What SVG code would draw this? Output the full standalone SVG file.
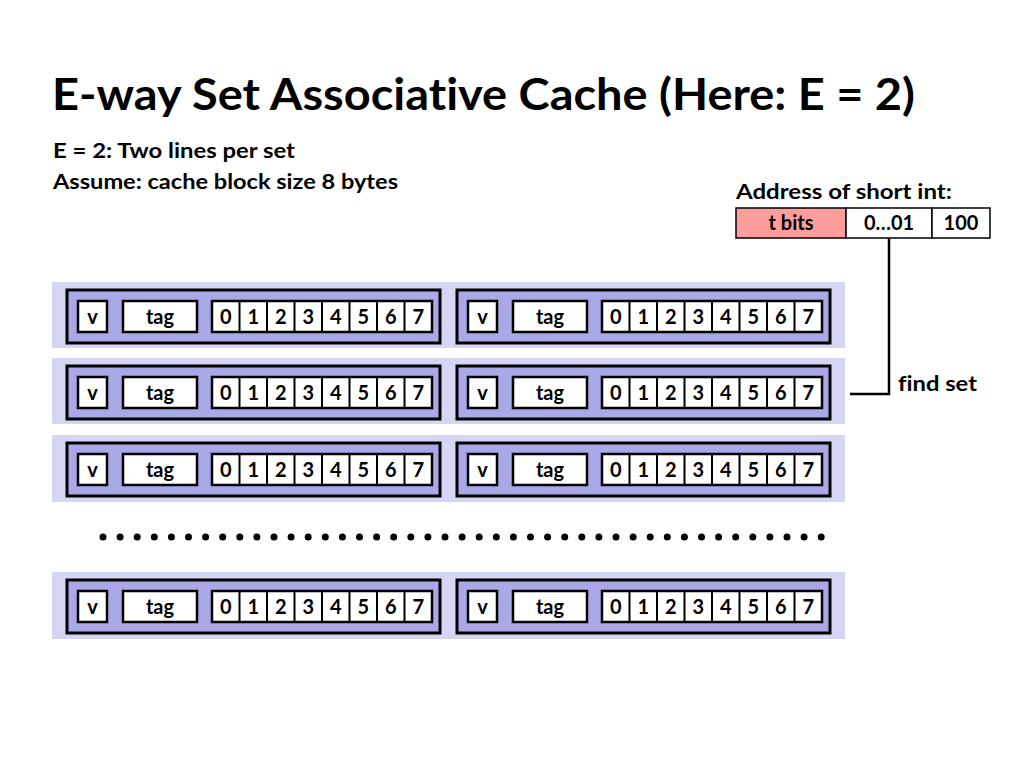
<svg xmlns="http://www.w3.org/2000/svg" width="1024" height="768" viewBox="0 0 1024 768">
<style>
.txt{font-family:"Lato","Liberation Sans",sans-serif;font-weight:bold;fill:#000;font-variant-ligatures:none}
.title{font-size:44px}
.sub{font-size:21px}
.c{font-size:20px;text-anchor:middle}
.setbg{fill:#d5d5f4;stroke:none}
.line{fill:#a9a9e8;stroke:#000;stroke-width:3}
.box{fill:#fff;stroke:#000;stroke-width:2.5}
.sep{stroke:#000;stroke-width:2}
.conn{fill:none;stroke:#000;stroke-width:2.5}
</style>
<rect width="1024" height="768" fill="#fff"/>
<text class="txt title" x="52" y="110" textLength="863" lengthAdjust="spacingAndGlyphs">E-way Set Associative Cache (Here: E = 2)</text>
<text class="txt sub" x="53" y="158" textLength="242" lengthAdjust="spacingAndGlyphs">E = 2: Two lines per set</text>
<text class="txt sub" x="53" y="189" textLength="345" lengthAdjust="spacingAndGlyphs">Assume: cache block size 8 bytes</text>

<g id="address">
<text class="txt sub" x="736" y="199" textLength="216" lengthAdjust="spacingAndGlyphs">Address of short int:</text>
<rect x="736" y="208" width="110" height="30" fill="#ff9c9c" stroke="#000" stroke-width="1.5"/>
<rect x="846" y="208" width="86" height="30" fill="#fff" stroke="#000" stroke-width="1.5"/>
<rect x="932" y="208" width="58" height="30" fill="#fff" stroke="#000" stroke-width="1.5"/>
<text class="txt c" x="791" y="230" font-size="19">t bits</text>
<text class="txt c" x="889" y="230" font-size="19">0…01</text>
<text class="txt c" x="961" y="230" font-size="19">100</text>
</g>

<g id="connectors">
<path class="conn" d="M889 238 V394 H850"/>
</g>
<text class="txt sub" x="898" y="391" textLength="79" lengthAdjust="spacingAndGlyphs">find set</text>

<g id="set0">
<rect class="setbg" x="52" y="282" width="793" height="66"/>
<g id="set0-line0" transform="translate(67,290)">
<rect class="line" x="0" y="0" width="373" height="53"/>
<rect class="box" x="11" y="11" width="29" height="31"/>
<rect class="box" x="56" y="11" width="74" height="31"/>
<rect class="box" x="145" y="11" width="220" height="31"/>
<path class="sep" d="M172.5 11v31M200 11v31M227.5 11v31M255 11v31M282.5 11v31M310 11v31M337.5 11v31"/>
<text class="txt c" x="25.5" y="34">v</text>
<text class="txt c" x="93" y="34">tag</text>
<text class="txt c" x="158.75" y="34">0</text><text class="txt c" x="186.25" y="34">1</text><text class="txt c" x="213.75" y="34">2</text><text class="txt c" x="241.25" y="34">3</text><text class="txt c" x="268.75" y="34">4</text><text class="txt c" x="296.25" y="34">5</text><text class="txt c" x="323.75" y="34">6</text><text class="txt c" x="351.25" y="34">7</text>
</g>
<g id="set0-line1" transform="translate(457,290)">
<rect class="line" x="0" y="0" width="373" height="53"/>
<rect class="box" x="11" y="11" width="29" height="31"/>
<rect class="box" x="56" y="11" width="74" height="31"/>
<rect class="box" x="145" y="11" width="220" height="31"/>
<path class="sep" d="M172.5 11v31M200 11v31M227.5 11v31M255 11v31M282.5 11v31M310 11v31M337.5 11v31"/>
<text class="txt c" x="25.5" y="34">v</text>
<text class="txt c" x="93" y="34">tag</text>
<text class="txt c" x="158.75" y="34">0</text><text class="txt c" x="186.25" y="34">1</text><text class="txt c" x="213.75" y="34">2</text><text class="txt c" x="241.25" y="34">3</text><text class="txt c" x="268.75" y="34">4</text><text class="txt c" x="296.25" y="34">5</text><text class="txt c" x="323.75" y="34">6</text><text class="txt c" x="351.25" y="34">7</text>
</g>
</g>

<g id="set1">
<rect class="setbg" x="52" y="358" width="793" height="66"/>
<g id="set1-line0" transform="translate(67,366)">
<rect class="line" x="0" y="0" width="373" height="53"/>
<rect class="box" x="11" y="11" width="29" height="31"/>
<rect class="box" x="56" y="11" width="74" height="31"/>
<rect class="box" x="145" y="11" width="220" height="31"/>
<path class="sep" d="M172.5 11v31M200 11v31M227.5 11v31M255 11v31M282.5 11v31M310 11v31M337.5 11v31"/>
<text class="txt c" x="25.5" y="34">v</text>
<text class="txt c" x="93" y="34">tag</text>
<text class="txt c" x="158.75" y="34">0</text><text class="txt c" x="186.25" y="34">1</text><text class="txt c" x="213.75" y="34">2</text><text class="txt c" x="241.25" y="34">3</text><text class="txt c" x="268.75" y="34">4</text><text class="txt c" x="296.25" y="34">5</text><text class="txt c" x="323.75" y="34">6</text><text class="txt c" x="351.25" y="34">7</text>
</g>
<g id="set1-line1" transform="translate(457,366)">
<rect class="line" x="0" y="0" width="373" height="53"/>
<rect class="box" x="11" y="11" width="29" height="31"/>
<rect class="box" x="56" y="11" width="74" height="31"/>
<rect class="box" x="145" y="11" width="220" height="31"/>
<path class="sep" d="M172.5 11v31M200 11v31M227.5 11v31M255 11v31M282.5 11v31M310 11v31M337.5 11v31"/>
<text class="txt c" x="25.5" y="34">v</text>
<text class="txt c" x="93" y="34">tag</text>
<text class="txt c" x="158.75" y="34">0</text><text class="txt c" x="186.25" y="34">1</text><text class="txt c" x="213.75" y="34">2</text><text class="txt c" x="241.25" y="34">3</text><text class="txt c" x="268.75" y="34">4</text><text class="txt c" x="296.25" y="34">5</text><text class="txt c" x="323.75" y="34">6</text><text class="txt c" x="351.25" y="34">7</text>
</g>
</g>

<g id="set2">
<rect class="setbg" x="52" y="435" width="793" height="67"/>
<g id="set2-line0" transform="translate(67,443)">
<rect class="line" x="0" y="0" width="373" height="53"/>
<rect class="box" x="11" y="11" width="29" height="31"/>
<rect class="box" x="56" y="11" width="74" height="31"/>
<rect class="box" x="145" y="11" width="220" height="31"/>
<path class="sep" d="M172.5 11v31M200 11v31M227.5 11v31M255 11v31M282.5 11v31M310 11v31M337.5 11v31"/>
<text class="txt c" x="25.5" y="34">v</text>
<text class="txt c" x="93" y="34">tag</text>
<text class="txt c" x="158.75" y="34">0</text><text class="txt c" x="186.25" y="34">1</text><text class="txt c" x="213.75" y="34">2</text><text class="txt c" x="241.25" y="34">3</text><text class="txt c" x="268.75" y="34">4</text><text class="txt c" x="296.25" y="34">5</text><text class="txt c" x="323.75" y="34">6</text><text class="txt c" x="351.25" y="34">7</text>
</g>
<g id="set2-line1" transform="translate(457,443)">
<rect class="line" x="0" y="0" width="373" height="53"/>
<rect class="box" x="11" y="11" width="29" height="31"/>
<rect class="box" x="56" y="11" width="74" height="31"/>
<rect class="box" x="145" y="11" width="220" height="31"/>
<path class="sep" d="M172.5 11v31M200 11v31M227.5 11v31M255 11v31M282.5 11v31M310 11v31M337.5 11v31"/>
<text class="txt c" x="25.5" y="34">v</text>
<text class="txt c" x="93" y="34">tag</text>
<text class="txt c" x="158.75" y="34">0</text><text class="txt c" x="186.25" y="34">1</text><text class="txt c" x="213.75" y="34">2</text><text class="txt c" x="241.25" y="34">3</text><text class="txt c" x="268.75" y="34">4</text><text class="txt c" x="296.25" y="34">5</text><text class="txt c" x="323.75" y="34">6</text><text class="txt c" x="351.25" y="34">7</text>
</g>
</g>

<path d="M103 537 H822" fill="none" stroke="#000" stroke-width="7" stroke-linecap="round" stroke-dasharray="0 17.1"/>

<g id="setS">
<rect class="setbg" x="52" y="572" width="793" height="67"/>
<g id="setS-line0" transform="translate(67,580)">
<rect class="line" x="0" y="0" width="373" height="53"/>
<rect class="box" x="11" y="11" width="29" height="31"/>
<rect class="box" x="56" y="11" width="74" height="31"/>
<rect class="box" x="145" y="11" width="220" height="31"/>
<path class="sep" d="M172.5 11v31M200 11v31M227.5 11v31M255 11v31M282.5 11v31M310 11v31M337.5 11v31"/>
<text class="txt c" x="25.5" y="34">v</text>
<text class="txt c" x="93" y="34">tag</text>
<text class="txt c" x="158.75" y="34">0</text><text class="txt c" x="186.25" y="34">1</text><text class="txt c" x="213.75" y="34">2</text><text class="txt c" x="241.25" y="34">3</text><text class="txt c" x="268.75" y="34">4</text><text class="txt c" x="296.25" y="34">5</text><text class="txt c" x="323.75" y="34">6</text><text class="txt c" x="351.25" y="34">7</text>
</g>
<g id="setS-line1" transform="translate(457,580)">
<rect class="line" x="0" y="0" width="373" height="53"/>
<rect class="box" x="11" y="11" width="29" height="31"/>
<rect class="box" x="56" y="11" width="74" height="31"/>
<rect class="box" x="145" y="11" width="220" height="31"/>
<path class="sep" d="M172.5 11v31M200 11v31M227.5 11v31M255 11v31M282.5 11v31M310 11v31M337.5 11v31"/>
<text class="txt c" x="25.5" y="34">v</text>
<text class="txt c" x="93" y="34">tag</text>
<text class="txt c" x="158.75" y="34">0</text><text class="txt c" x="186.25" y="34">1</text><text class="txt c" x="213.75" y="34">2</text><text class="txt c" x="241.25" y="34">3</text><text class="txt c" x="268.75" y="34">4</text><text class="txt c" x="296.25" y="34">5</text><text class="txt c" x="323.75" y="34">6</text><text class="txt c" x="351.25" y="34">7</text>
</g>
</g>
</svg>
